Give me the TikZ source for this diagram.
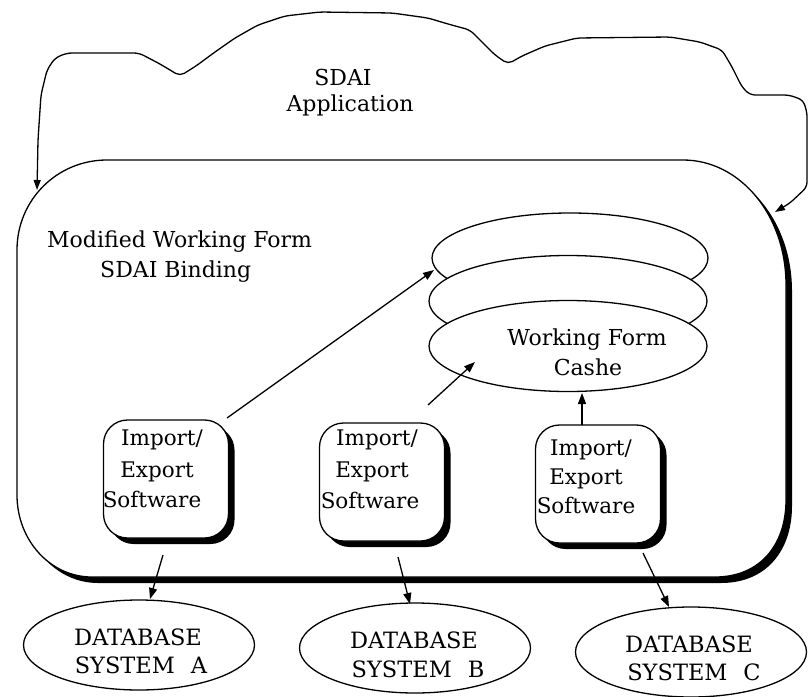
\documentclass[tikz,border=0pt]{standalone}
\usepackage{fontspec}
\setmainfont{DejaVu Serif}
\usetikzlibrary{arrows.meta,shapes.geometric,shadows}
\begin{document}
\begin{tikzpicture}[x=1pt,y=-1pt,
  ln/.style={line width=1.3pt},
  arr/.style={line width=1.3pt,-{Triangle[length=11pt,width=8pt]}},
  dbell/.style={ellipse,draw,line width=1.3pt,minimum width=231pt,minimum height=90pt,inner sep=0pt},
  cacheell/.style={ellipse,draw,fill=white,line width=1.3pt,minimum width=278pt,minimum height=91pt,inner sep=0pt},
  iobox/.style={rectangle,rounded corners=24pt,draw,fill=white,line width=1.3pt,minimum width=125pt,minimum height=118pt,inner sep=0pt,
    drop shadow={shadow xshift=6pt,shadow yshift=-6pt,fill=black,opacity=1}},
  tb/.style={anchor=base,inner sep=0pt,font=\fontsize{21.5}{26}\selectfont},
  td/.style={anchor=base,inner sep=0pt,font=\fontsize{22.5}{27}\selectfont},
  tbw/.style={anchor=base west,inner sep=0pt,font=\fontsize{22}{26}\selectfont},
  tl/.style={anchor=base,inner sep=0pt,font=\fontsize{22}{26}\selectfont}
]
\useasboundingbox (0,0) rectangle (808,696);
% big box: shadow then body
\fill[black,shift={(6,6)}] (17,250) .. controls (17,200) and (57,160) .. (107,160) -- (683,160)
  .. controls (740,160) and (786,215) .. (786,285) -- (786,500)
  .. controls (786,545) and (760,577) .. (715,577) -- (92,577)
  .. controls (50,577) and (17,540) .. (17,495) -- cycle;
\filldraw[ln,fill=white] (17,250) .. controls (17,200) and (57,160) .. (107,160) -- (683,160)
  .. controls (740,160) and (786,215) .. (786,285) -- (786,500)
  .. controls (786,545) and (760,577) .. (715,577) -- (92,577)
  .. controls (50,577) and (17,540) .. (17,495) -- cycle;
% cloud (SDAI application)
\coordinate (cloudL) at (37,190);
\coordinate (cloudR) at (775,212);
\draw[ln,rounded corners=5pt,{Triangle[length=10pt,width=7pt]}-{Triangle[length=10pt,width=7pt]}]
  (cloudL) -- (38,140) -- (41,95) -- (47,70) -- (55,58) -- (67,53) -- (139,53) -- (160,64) -- (180,76)
  -- (196,66) -- (215,52) -- (235,38) -- (258,25) -- (285,16) -- (320,12) -- (392,13) -- (428,18)
  -- (448,24) -- (470,30) -- (480,40) -- (495,55) -- (508,64) -- (522,56) -- (545,46) -- (577,38)
  -- (670,37) -- (700,42) -- (722,50) -- (732,67) -- (742,87) -- (750,95) -- (789,95) -- (803,100)
  -- (807,112) -- (807,187) -- (790,203) -- (cloudR);
\node[tl] (sdai) at (343,85) {SDAI};
\node[tl] (app) at (350,111) {Application};
\node[tbw] (mwf) at (47,247) {Modified Working Form};
\node[tbw] (sbind) at (100,277) {SDAI Binding};
% working form cache stack
\node[cacheell,minimum width=276pt,minimum height=90pt] (wf3) at (570,258) {};
\node[cacheell] (wf2) at (568,301) {};
\node[cacheell] (wf1) at (568,346) {};
\node[tl] (wft1) at (587,345) {Working Form};
\node[tl] (wft2) at (588,375) {Cashe};
% import/export boxes
\node[iobox] (ioA) at (166,479) {};
\node[iobox] (ioB) at (382,482) {};
\node[iobox] (ioC) at (598,484) {};
\node[tb] (ioA1) at (162,445) {Import/};
\node[tb] (ioA2) at (157,477) {Export};
\node[tb] (ioA3) at (152,507) {Software};
\node[tb] (ioB1) at (377,445) {Import/};
\node[tb] (ioB2) at (372,477) {Export};
\node[tb] (ioB3) at (370,508) {Software};
\node[tb] (ioC1) at (591,455) {Import/};
\node[tb] (ioC2) at (586,484) {Export};
\node[tb] (ioC3) at (586,513) {Software};
% database systems
\node[dbell] (dbA) at (139,645) {};
\node[dbell] (dbB) at (415,648) {};
\node[dbell] (dbC) at (691,652) {};
\node[td] (dbA1) at (138,645) {DATABASE};
\node[td] (dbA2) at (141,673) {SYSTEM\hspace{16pt}A};
\node[td] (dbB1) at (414,648) {DATABASE};
\node[td] (dbB2) at (418,677) {SYSTEM\hspace{16pt}B};
\node[td] (dbC1) at (689,652) {DATABASE};
\node[td] (dbC2) at (694,680) {SYSTEM\hspace{16pt}C};
% connectors
\coordinate (aAs) at (227,418);
\coordinate (aAe) at (434,270);
\coordinate (aBs) at (428,405);
\coordinate (aBe) at (475,362);
\coordinate (aCs) at (582,425);
\coordinate (aCe) at (582,393);
\coordinate (dAs) at (163,555);
\coordinate (dAe) at (150,599);
\coordinate (dBs) at (398,557);
\coordinate (dBe) at (410,604);
\coordinate (dCs) at (643,553);
\coordinate (dCe) at (669,607);
\draw[arr] (aAs) -- (aAe);
\draw[arr] (aBs) -- (aBe);
\draw[arr] (aCs) -- (aCe);
\draw[arr] (dAs) -- (dAe);
\draw[arr] (dBs) -- (dBe);
\draw[arr] (dCs) -- (dCe);
\end{tikzpicture}
\end{document}
